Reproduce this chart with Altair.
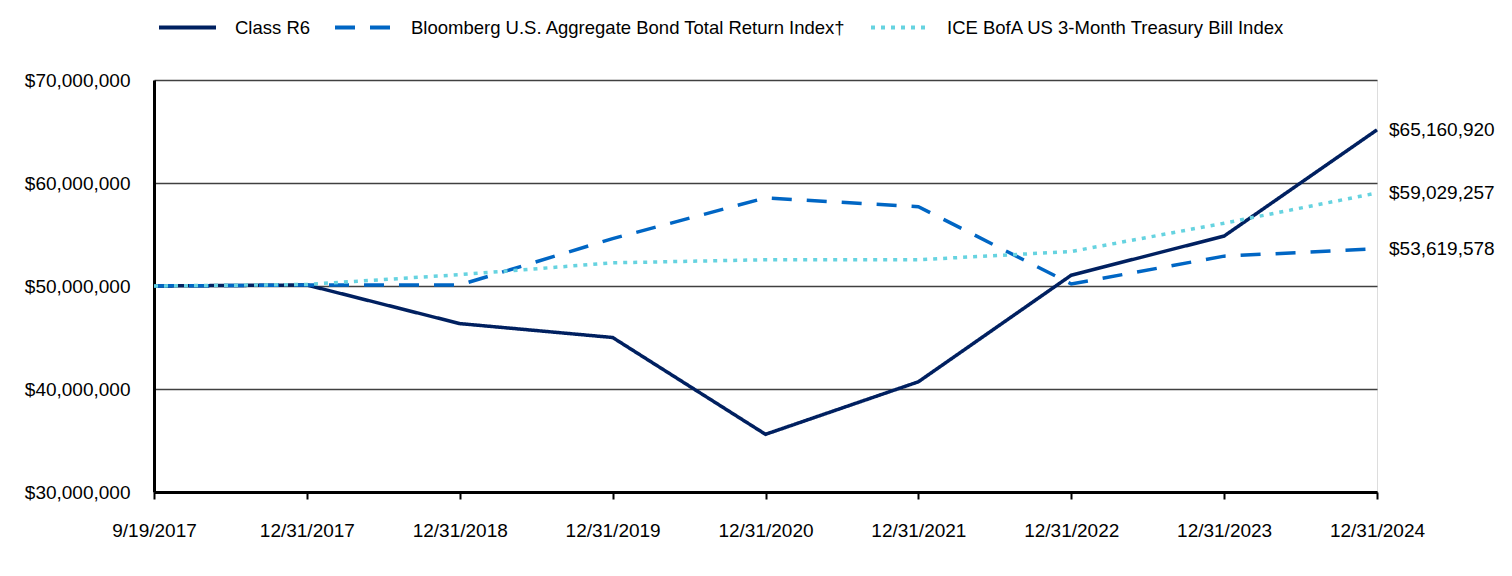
import altair as alt
import pandas as pd

dates = ["9/19/2017", "12/31/2017", "12/31/2018", "12/31/2019", "12/31/2020",
         "12/31/2021", "12/31/2022", "12/31/2023", "12/31/2024"]
series_names = ["Class R6", "Bloomberg U.S. Aggregate Bond Total Return Index\u2020",
                "ICE BofA US 3-Month Treasury Bill Index"]
class_r6 = [50000000, 50100000, 46350000, 45000000, 35600000, 40700000, 51050000, 54850000, 65160920]
bloomberg = [50000000, 50100000, 50100000, 54600000, 58550000, 57700000, 50200000, 52900000, 53619578]
ice = [50000000, 50150000, 51100000, 52250000, 52550000, 52550000, 53350000, 56100000, 59029257]
colors = ["#002060", "#0066C4", "#66D3E0"]
dashes = [[1, 0], [20, 15], [4, 6]]

rows = []
for name, vals in zip(series_names, [class_r6, bloomberg, ice]):
    for d, v in zip(dates, vals):
        rows.append({"date": d, "series": name, "value": v})
df = pd.DataFrame(rows)
last = df[df["date"] == dates[-1]]

font = "Liberation Sans"
fs = 19
lfs = 18.5

x = alt.X("date:O", sort=dates, title=None,
          scale=alt.Scale(type="point", padding=0),
          axis=alt.Axis(labelAngle=0, labelFontSize=fs, labelColor="#000000", labelFont=font,
                        domainColor="#000000", domainWidth=3, tickColor="#000000", tickWidth=2,
                        tickSize=7, labelPadding=22, grid=False))
y = alt.Y("value:Q", title=None,
          scale=alt.Scale(domain=[30000000, 70000000], nice=False),
          axis=alt.Axis(values=[30000000, 40000000, 50000000, 60000000, 70000000],
                        format="$,.0f", labelFontSize=fs, labelColor="#000000", labelFont=font,
                        ticks=False, labelPadding=24, domainColor="#000000", domainWidth=3,
                        grid=True, gridColor="#404040", gridWidth=1.5))

color = alt.Color("series:N", sort=series_names,
                  scale=alt.Scale(domain=series_names, range=colors),
                  legend=alt.Legend(title=None, orient="none", direction="horizontal",
                                    legendX=3, legendY=-83, symbolType="stroke",
                                    symbolSize=3249, symbolStrokeWidth=4,
                                    labelFontSize=lfs, labelFont=font, labelColor="#000000",
                                    labelOffset=17, columnPadding=16, labelLimit=700,
                                    padding=0))
dash = alt.StrokeDash("series:N", sort=series_names,
                      scale=alt.Scale(domain=series_names, range=dashes), legend=None)

lines = alt.Chart(df).mark_line(strokeWidth=3.5).encode(x=x, y=y, color=color, strokeDash=dash)

labels = alt.Chart(last).mark_text(align="left", baseline="middle", dx=12, fontSize=fs,
                                   font=font, color="#000000").encode(
    x=alt.X("date:O", sort=dates, scale=alt.Scale(type="point", padding=0)),
    y=alt.Y("value:Q", scale=alt.Scale(domain=[30000000, 70000000], nice=False)),
    text=alt.Text("value:Q", format="$,.0f"))

chart = alt.layer(lines, labels).properties(
    width=1223, height=412,
    autosize=alt.AutoSizeParams(type="none"),
    padding={"left": 146, "top": 72, "right": 125, "bottom": 74},
).configure_view(stroke=None).configure(background="#ffffff")

chart.save("out.html", embed_options={"renderer": "svg", "actions": False})
